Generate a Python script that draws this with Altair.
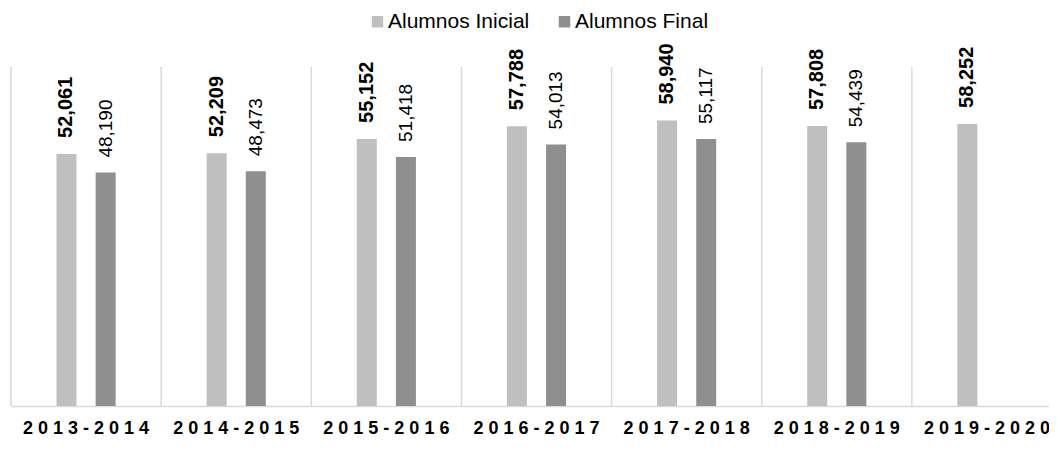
import altair as alt
import pandas as pd

years = ["2013-2014", "2014-2015", "2015-2016", "2016-2017", "2017-2018", "2018-2019", "2019-2020"]
inicial = [52061, 52209, 55152, 57788, 58940, 57808, 58252]
final = [48190, 48473, 51418, 54013, 55117, 54439, None]
series = ["Alumnos Inicial", "Alumnos Final"]
colors = ["#bfbfbf", "#8f8f8f"]

rows = []
for i, y in enumerate(years):
    rows.append({"year": y, "serie": series[0], "value": inicial[i]})
    if final[i] is not None:
        rows.append({"year": y, "serie": series[1], "value": final[i]})
df = pd.DataFrame(rows)
sep = pd.DataFrame({"year": years})

FONT = "Liberation Sans"
H = 339

x_axis = alt.Axis(title=None, ticks=False, grid=False, domain=True,
                  domainColor="#d9d9d9", domainWidth=1.5,
                  labelAngle=0, labelFont=FONT, labelFontSize=18,
                  labelFontWeight="bold", labelColor="#000000",
                  labelPadding=13,
                  labelExpr="join(split(datum.label, ''), ' ')")
x_scale = alt.Scale(paddingInner=0, paddingOuter=0, round=False)
x_enc = alt.X("year:N", sort=years, scale=x_scale, axis=x_axis)
xo_enc = alt.XOffset("serie:N", sort=series,
                     scale=alt.Scale(paddingInner=0.165, paddingOuter=1, round=False))
y_enc = alt.Y("value:Q", scale=alt.Scale(domain=[0, 70000]), axis=None)

rules = alt.Chart(sep).mark_rule(color="#d9d9d9", strokeWidth=1.5).encode(
    x=alt.X("year:N", sort=years, bandPosition=0, scale=x_scale, axis=x_axis),
    y=alt.value(0),
    y2=alt.value(H),
)

bars = alt.Chart(df).mark_bar(width=20).encode(
    x=x_enc,
    xOffset=xo_enc,
    y=y_enc,
    color=alt.Color("serie:N", sort=series,
                    scale=alt.Scale(domain=series, range=colors),
                    legend=alt.Legend(title=None, orient="none", legendX=356, legendY=-56,
                                      direction="horizontal", symbolType="square",
                                      symbolSize=132, symbolStrokeWidth=0,
                                      labelFont=FONT, labelFontSize=21,
                                      labelColor="#000000", columnPadding=24,
                                      labelOffset=0)),
)

lab_bold = alt.Chart(df).transform_filter(alt.datum.serie == series[0]).mark_text(
    angle=270, align="left", baseline="middle", dx=16, font=FONT, fontSize=20,
    fontWeight="bold", color="#000000"
).encode(x=x_enc, xOffset=xo_enc, y=y_enc, text=alt.Text("value:Q", format=","))

lab_norm = alt.Chart(df).transform_filter(alt.datum.serie == series[1]).mark_text(
    angle=270, align="left", baseline="middle", dx=15, font=FONT, fontSize=19,
    fontWeight="normal", color="#000000"
).encode(x=x_enc, xOffset=xo_enc, y=y_enc, text=alt.Text("value:Q", format=","))

chart = alt.layer(rules, bars, lab_bold, lab_norm).properties(
    width=1051, height=H,
    autosize=alt.AutoSizeParams(type="none"),
    padding={"left": 3, "top": 59, "right": -13, "bottom": 32},
).configure_view(stroke=None)

chart.save("out.html", embed_options={"renderer": "svg", "actions": False})
